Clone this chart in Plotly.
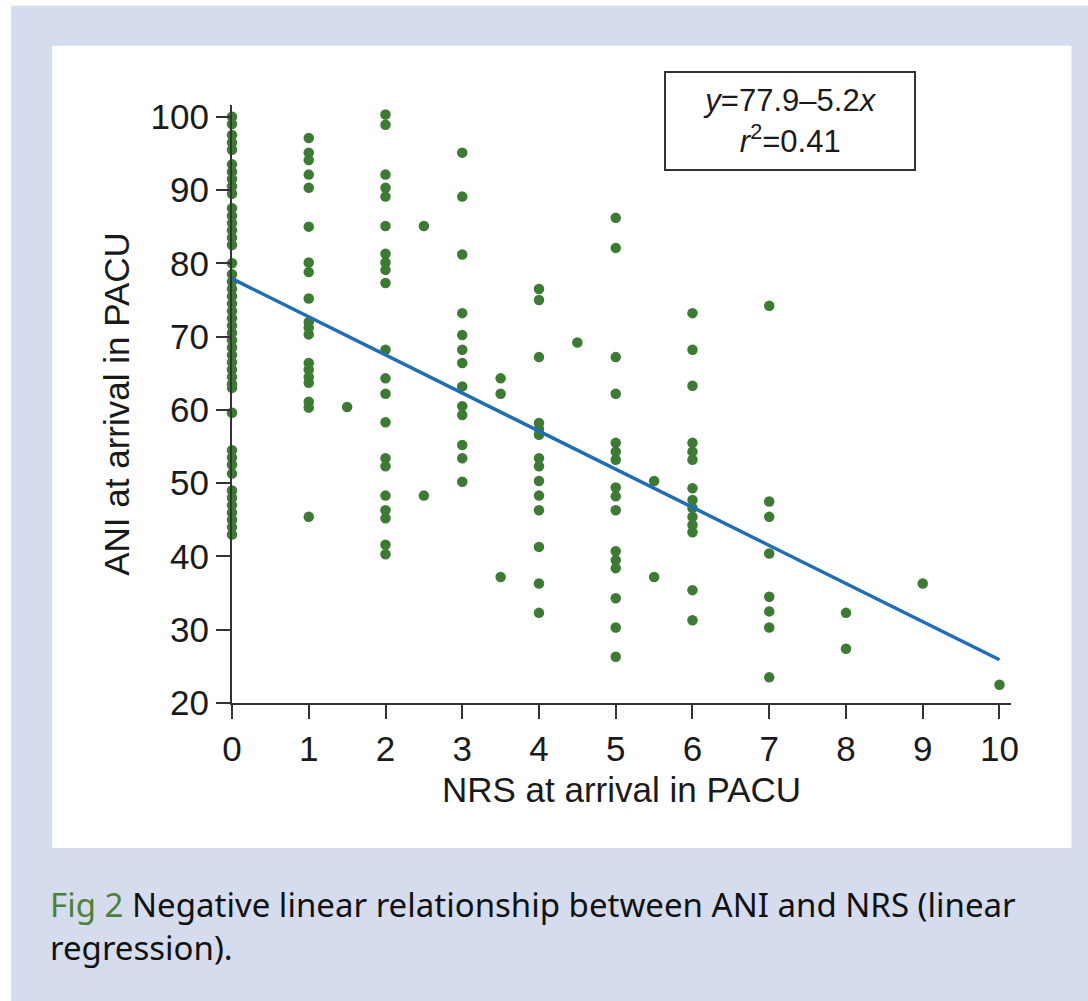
import plotly.graph_objects as go

# ANI values read for each NRS score
ani_nrs_0 = [100, 99, 97.5, 96.5, 95.5, 93.5, 92.5, 91.5, 90.5, 89.5, 87.5, 86.5, 85.5,
             84.5, 83.5, 82.5, 80, 78.5, 77.5, 76.5, 75.5, 74.5, 73.5, 72.5, 71.5, 70.5,
             69.5, 68.5, 67.5, 66.5, 65.5, 64.5, 63.5, 63, 59.6, 54.5, 53.5, 52.5, 51.3,
             49, 48, 47, 46, 45, 44, 43]
ani_nrs_1 = [97.1, 95.1, 94.1, 92.1, 90.3, 85.0, 80.1, 78.8, 75.2, 72.0, 71.2, 70.3,
             66.4, 65.5, 64.5, 63.7, 61.1, 60.3, 45.4]
ani_nrs_1_5 = [60.4]
ani_nrs_2 = [100.3, 98.9, 92.1, 90.3, 89.1, 85.1, 81.3, 80.1, 79.1, 77.3, 68.2, 64.3,
             62.2, 58.3, 53.4, 52.3, 48.3, 46.3, 45.2, 41.6, 40.3]
ani_nrs_2_5 = [85.1, 48.3]
ani_nrs_3 = [95.1, 89.1, 81.2, 73.2, 70.2, 68.2, 66.4, 63.2, 60.5, 59.3, 55.2, 53.4, 50.2]
ani_nrs_3_5 = [64.3, 62.2, 37.2]
ani_nrs_4 = [76.5, 75.0, 67.2, 58.2, 57.4, 56.6, 53.4, 52.3, 50.3, 48.3, 46.3, 41.3,
             36.3, 32.3]
ani_nrs_4_5 = [69.2]
ani_nrs_5 = [86.2, 82.1, 67.2, 62.2, 55.5, 54.3, 53.2, 49.4, 48.2, 46.3, 40.7, 39.5,
             38.4, 34.3, 30.3, 26.3]
ani_nrs_5_5 = [50.3, 37.2]
ani_nrs_6 = [73.2, 68.2, 63.3, 55.5, 54.3, 53.2, 49.3, 47.7, 46.6, 45.4, 44.3, 43.3,
             35.4, 31.3]
ani_nrs_7 = [74.2, 47.5, 45.4, 40.4, 34.5, 32.5, 30.3, 23.5]
ani_nrs_8 = [32.3, 27.4]
ani_nrs_9 = [36.3]
ani_nrs_10 = [22.5]

nrs_levels = [0, 1, 1.5, 2, 2.5, 3, 3.5, 4, 4.5, 5, 5.5, 6, 7, 8, 9, 10]
ani_columns = [ani_nrs_0, ani_nrs_1, ani_nrs_1_5, ani_nrs_2, ani_nrs_2_5, ani_nrs_3,
               ani_nrs_3_5, ani_nrs_4, ani_nrs_4_5, ani_nrs_5, ani_nrs_5_5, ani_nrs_6,
               ani_nrs_7, ani_nrs_8, ani_nrs_9, ani_nrs_10]

# regression
intercept = 77.9
slope = -5.2
fit_x = [0, 10]

x_ticks = list(range(0, 11))
y_ticks = [20, 30, 40, 50, 60, 70, 80, 90, 100]

xs, ys = [], []
for lvl, col in zip(nrs_levels, ani_columns):
    for v in col:
        xs.append(lvl)
        ys.append(v)

fit_y = [intercept + slope * v for v in fit_x]

W, H = 1088, 1001
L, R, T, B = 232, 76.5, 105.3, 298
pw = W - L - R
ph = H - T - B


def px_x(p):
    return (p - L) / pw


def px_y(p):
    return (H - B - p) / ph


FONT = "Liberation Sans, Arial, sans-serif"
CAP_FONT = "Noto Sans, sans-serif"

fig = go.Figure()
fig.add_trace(go.Scatter(x=xs, y=ys, mode="markers",
                         marker=dict(color="#3d7a33", size=10.5, line=dict(width=0)),
                         showlegend=False, cliponaxis=False))
fig.add_trace(go.Scatter(x=fit_x, y=fit_y, mode="lines",
                         line=dict(color="#1f6db5", width=3.5),
                         showlegend=False, cliponaxis=False))

shapes = [
    dict(type="rect", xref="paper", yref="paper", layer="below",
         x0=px_x(11), x1=px_x(W + 5), y0=px_y(6), y1=px_y(H + 5),
         fillcolor="#d4dcee", line=dict(width=0)),
    dict(type="rect", xref="paper", yref="paper", layer="below",
         x0=px_x(52), x1=px_x(1072), y0=px_y(46), y1=px_y(848),
         fillcolor="white", line=dict(width=0)),
]

annotations = [
    dict(xref="paper", yref="paper", x=px_x(790), y=px_y(121),
         text="<i>y</i>=77.9–5.2<i>x</i><br><i>r</i><sup>2</sup>=0.41",
         showarrow=False, font=dict(family=FONT, size=31, color="#1a1a1a"),
         bordercolor="#333333", borderwidth=2, width=246, height=94,
         bgcolor="white", xanchor="center", yanchor="middle", align="center"),
    dict(xref="paper", yref="paper", x=px_x(48), y=px_y(926),
         text="<span style='color:#4d7f3a'>Fig 2</span> Negative linear relationship between ANI and NRS (linear<br>regression).",
         showarrow=False, font=dict(family=CAP_FONT, size=33, color="#111111"),
         xanchor="left", yanchor="middle", align="left"),
]

fig.update_layout(
    width=W, height=H,
    margin=dict(l=L, r=R, t=T, b=B, pad=0),
    paper_bgcolor="white",
    plot_bgcolor="rgba(0,0,0,0)",
    shapes=shapes,
    annotations=annotations,
    xaxis=dict(range=[0, 10.15], tickvals=x_ticks, ticks="outside", ticklen=14,
               tickwidth=2, tickcolor="#333333", showline=True, linecolor="#333333",
               linewidth=2, showgrid=False, zeroline=False,
               tickfont=dict(family=FONT, size=35, color="#1a1a1a"),
               title=dict(text="NRS at arrival in PACU", standoff=10,
                          font=dict(family=FONT, size=35, color="#1a1a1a"))),
    yaxis=dict(range=[20, 101.6], tickvals=y_ticks, ticks="outside", ticklen=14,
               tickwidth=2, tickcolor="#333333", showline=True, linecolor="#333333",
               linewidth=2, showgrid=False, zeroline=False,
               tickfont=dict(family=FONT, size=35, color="#1a1a1a"),
               title=dict(text="ANI at arrival in PACU", standoff=10,
                          font=dict(family=FONT, size=35, color="#1a1a1a"))),
)

fig.write_html("out.html")
